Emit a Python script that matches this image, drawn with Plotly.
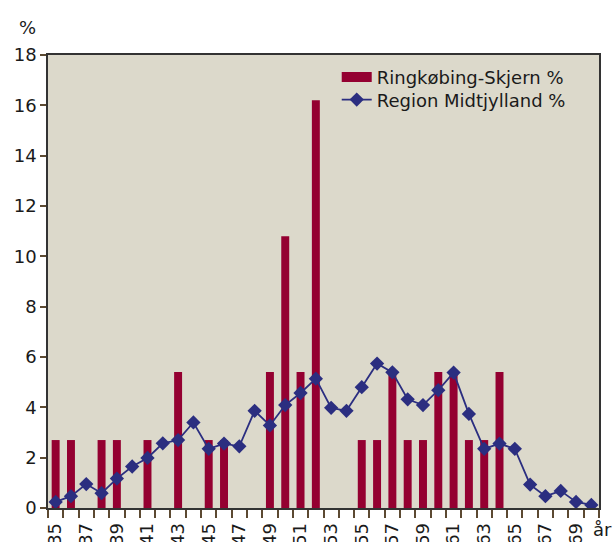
import plotly.graph_objects as go

# alder (år)
ages = list(range(35, 71))

# Ringkøbing-Skjern %, 0 where there is no bar
rks_pct = [2.7, 2.7, 0, 2.7, 2.7, 0, 2.7, 0, 5.4, 0,
           2.7, 2.7, 0, 0, 5.4, 10.8, 5.4, 16.2, 0, 0,
           2.7, 2.7, 5.4, 2.7, 2.7, 5.4, 5.4, 2.7, 2.7, 5.4,
           0, 0, 0, 0, 0, 0]

# Region Midtjylland %
region_pct = [0.24, 0.47, 0.95, 0.59, 1.17, 1.65, 1.99, 2.57, 2.70, 3.40,
              2.35, 2.56, 2.45, 3.86, 3.28, 4.09, 4.57, 5.14, 3.98, 3.86,
              4.80, 5.74, 5.39, 4.32, 4.09, 4.68, 5.38, 3.74, 2.35, 2.56,
              2.35, 0.93, 0.47, 0.68, 0.24, 0.12]

tick_ages = [a for a in ages if a % 2 == 1]

FONT = "DejaVu Sans"
TXT = "#1a1a1a"
TICK = "#5c4a32"
BAR = "#940031"
LINE = "#2b2e80"

fig = go.Figure()

fig.add_trace(go.Bar(
    x=ages, y=rks_pct, name="Ringkøbing-Skjern %",
    marker=dict(color=BAR, line=dict(width=0)),
    showlegend=False,
))
# legend entry drawn as a wide block like the original
fig.add_trace(go.Scatter(
    x=[None], y=[None], name="Ringkøbing-Skjern %",
    mode="lines", line=dict(color=BAR, width=10),
    legend="legend",
))
fig.add_trace(go.Scatter(
    x=ages, y=region_pct, name="Region Midtjylland %",
    mode="lines+markers",
    line=dict(color=LINE, width=1.8),
    marker=dict(symbol="diamond", size=11, color=LINE),
    legend="legend2",
))

leg = dict(
    x=0.524, xanchor="left", yanchor="middle",
    bgcolor="rgba(0,0,0,0)", borderwidth=0,
    font=dict(size=18, color=TXT), itemwidth=30,
)

fig.update_layout(
    width=614, height=542,
    margin=dict(l=48, r=15, t=55, b=34),
    paper_bgcolor="white",
    plot_bgcolor="#dcd9cb",
    bargap=0.48,
    showlegend=True,
    font=dict(family=FONT, size=18, color=TXT),
    legend=dict(leg, y=0.951),
    legend2=dict(leg, y=0.901),
    xaxis=dict(
        range=[34.5, 70.5],
        tickmode="array", tickvals=tick_ages,
        ticktext=[str(a) for a in tick_ages],
        tickangle=-90,
        ticks="outside", ticklen=6, tickcolor="rgba(0,0,0,0)",
        minor=dict(ticks="outside", tickmode="linear", tick0=34.5, dtick=1,
                   ticklen=8, tickcolor=TICK, tickwidth=1.5),
        showline=True, linecolor="#333333", linewidth=1.5, mirror=True,
        showgrid=False, zeroline=False, automargin=False,
        tickfont=dict(size=18, color=TXT),
    ),
    xaxis2=dict(
        matches="x", overlaying="x", anchor="y", side="bottom",
        tickmode="array", tickvals=tick_ages, showticklabels=False,
        ticks="", showgrid=False, zeroline=False, showline=False,
        minor=dict(ticks="inside", tickmode="linear", tick0=34.5, dtick=1,
                   ticklen=6, tickcolor=TICK, tickwidth=1.5),
    ),
    yaxis=dict(
        range=[0, 18], dtick=2, tick0=0,
        ticks="outside", ticklen=6, tickcolor=TICK, tickwidth=1.5,
        showline=True, linecolor="#333333", linewidth=1.5, mirror=True,
        showgrid=False, zeroline=False, automargin=False,
        tickfont=dict(size=18, color=TXT),
    ),
    yaxis2=dict(
        matches="y", overlaying="y", anchor="x", side="left",
        ticks="inside", ticklen=6, tickcolor=TICK, tickwidth=1.5,
        dtick=2, showticklabels=False, showgrid=False, zeroline=False,
        showline=False,
    ),
    annotations=[
        dict(text="%", xref="paper", yref="paper", x=-0.038, y=1.06,
             xanchor="center", yanchor="middle", showarrow=False,
             font=dict(size=18, color=TXT)),
        dict(text="år", xref="paper", yref="paper", x=0.985, y=-0.047,
             xanchor="left", yanchor="middle", showarrow=False,
             font=dict(size=18, color=TXT)),
    ],
)

# drop the default page margin so the figure fills the window exactly
fig.write_html(
    "out.html",
    config={"displayModeBar": False},
    post_script="document.body.style.margin='0';document.body.style.overflow='hidden';",
)
